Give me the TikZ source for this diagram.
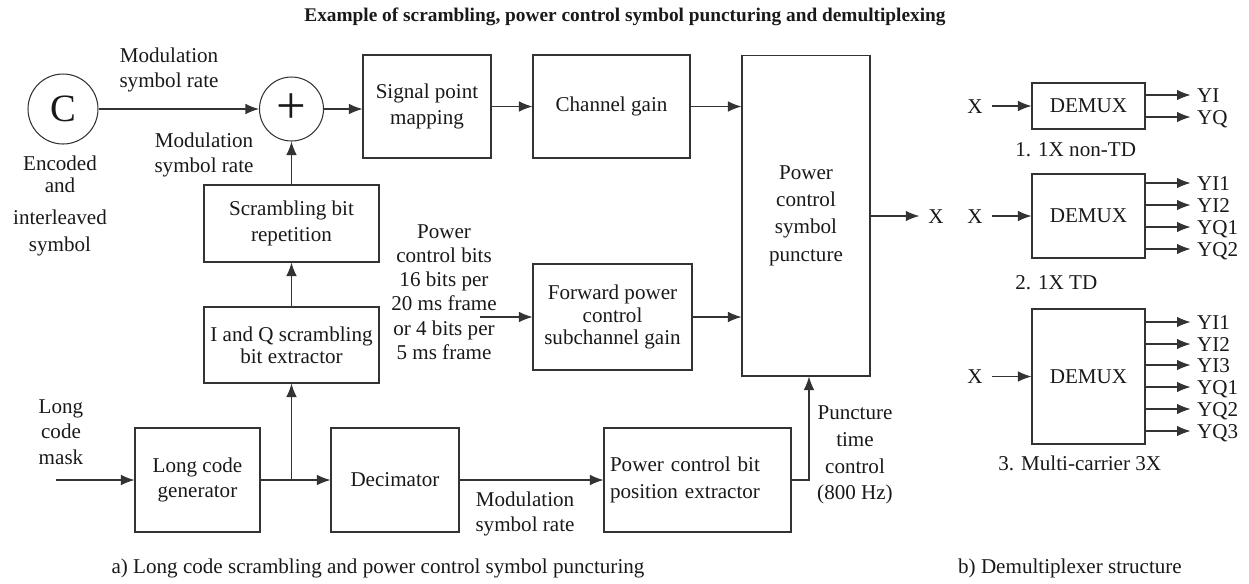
\documentclass[tikz,border=0pt]{standalone}
\usepackage{fontspec}
\setmainfont{Liberation Serif}
\usetikzlibrary{arrows.meta}

\begin{document}
\begin{tikzpicture}[x=0.02cm,y=-0.02cm]
\tikzstyle{every node}+=[font=\fontsize{12}{14.5}\selectfont, text=black!90]
\tikzstyle{block}=[draw=black!80, line width=0.6pt, align=center, inner sep=2pt]
\tikzstyle{arr}=[draw=black!80, line width=0.6pt, -{Latex[length=2.7mm,width=2.1mm]}]
\tikzstyle{sig}=[inner xsep=5pt, inner ysep=0pt, text height=8pt, text depth=0pt]
\tikzstyle{outlbl}=[right, inner xsep=3.5pt, inner ysep=0pt, text height=8pt, text depth=0pt]
\tikzstyle{subcap}=[inner sep=0pt, anchor=west]
\useasboundingbox (0,0) rectangle (1249,583);

% title
\node[font=\fontsize{11}{13}\selectfont\bfseries] (title) at (625,17) {Example of scrambling, power control symbol puncturing and demultiplexing};

% a) long code scrambling and power control symbol puncturing
\node[block, circle, minimum size=1.4cm, inner sep=0pt, font=\fontsize{22}{22}\selectfont] (csrc) at (63,109) {C};
\node[block, circle, minimum size=1.28cm, inner sep=0pt, font=\fontsize{30}{30}\selectfont] (plus) at (291.5,109) {+};
\node[block, minimum width=2.56cm, minimum height=2.06cm] (sigmap) at (427,106.5) {Signal point\\mapping};
\node[block, minimum width=3.14cm, minimum height=2.06cm] (chgain) at (611.5,106.5) {Channel gain};
\node[block, minimum width=2.56cm, minimum height=6.42cm, font=\fontsize{12}{15.5}\selectfont] (pcpunct) at (806,215.5) {Power\\control\\symbol\\puncture};
\node[block, minimum width=3.5cm, minimum height=1.54cm] (scrrep) at (291.5,223.5) {Scrambling bit\\repetition};
\node[block, minimum width=3.5cm, minimum height=1.52cm, font=\fontsize{12}{12.5}\selectfont] (iqext) at (291.5,345) {I and Q scrambling\\bit extractor};
\node[block, minimum width=3.18cm, minimum height=2.12cm, font=\fontsize{12}{12.8}\selectfont] (fwdgain) at (612.5,317) {Forward power\\control\\subchannel gain};
\node[block, minimum width=2.5cm, minimum height=2.08cm] (lcgen) at (197.5,480) {Long code\\generator};
\node[block, minimum width=2.56cm, minimum height=2.08cm] (decim) at (395,480) {Decimator};
\node[block, text width=3.5cm, inner xsep=0.12cm, align=left, minimum height=2.08cm, font=\fontsize{12}{15.4}\selectfont] (pcbext) at (697.5,480) {Power control bit\\position extractor};

\node[align=center, font=\fontsize{12}{14.2}\selectfont] (modrate1) at (169,70) {Modulation\\symbol rate};
\node[align=center, font=\fontsize{12}{14.2}\selectfont] (modrate2) at (204,155) {Modulation\\symbol rate};
\node[align=center, font=\fontsize{12}{12.5}\selectfont] (encsym) at (60,206) {Encoded\\and\\[6pt]interleaved\\[3pt]symbol};
\node[align=center] (lcmask) at (61,432) {Long\\code\\mask};
\node[align=center, font=\fontsize{12}{13.8}\selectfont] (pcbits) at (444,292) {Power\\control bits\\16 bits per\\20 ms frame\\or 4 bits per\\5 ms frame};
\node[align=center, font=\fontsize{12}{14.2}\selectfont] (modrate3) at (525,514) {Modulation\\symbol rate};
\node[align=center, font=\fontsize{12}{15.2}\selectfont] (punctime) at (855,455) {Puncture\\time\\control\\(800 Hz)};
\node[sig] (xout) at (936,216) {X};

\coordinate (maskin) at (56,480);
\coordinate (pcbin) at (480,317);

\draw[arr] (csrc) -- (plus);
\draw[arr] (plus.east) -- (plus.east -| sigmap.west);
\draw[arr] (sigmap) -- (chgain);
\draw[arr] (chgain.east) -- (chgain.east -| pcpunct.west);
\draw[arr] (scrrep) -- (plus);
\draw[arr] (iqext) -- (scrrep);
\draw[arr] (maskin) -- (lcgen);
\draw[arr] (lcgen) -- (decim);
\draw[arr] (lcgen.east -| iqext.south) -- (iqext.south);
\draw[arr] (decim) -- (pcbext);
\draw[arr] (pcbext.east) -| ([xshift=0.06cm]pcpunct.south);
\draw[arr] (pcbin) -- (fwdgain);
\draw[arr] (fwdgain.east) -- (fwdgain.east -| pcpunct.west);
\draw[arr] (pcpunct.east |- xout) -- (xout);

% b) demultiplexer structure
\node[block, minimum width=2.26cm, minimum height=0.92cm] (demux1) at (1088.5,106) {DEMUX};
\node[block, minimum width=2.26cm, minimum height=1.68cm] (demux2) at (1088.5,216) {DEMUX};
\node[block, minimum width=2.26cm, minimum height=2.7cm] (demux3) at (1088.5,376.5) {DEMUX};
\node[sig] (xin1) at (975,106) {X};
\node[sig] (xin2) at (975,216) {X};
\node[sig] (xin3) at (975,376.5) {X};
\draw[arr] (xin1) -- (demux1);
\draw[arr] (xin2) -- (demux2);
\draw[arr] (xin3) -- (demux3);

\draw[arr] (demux1.east |- 0,95) -- ++(45,0) node[outlbl] (ya1) {YI};
\draw[arr] (demux1.east |- 0,117) -- ++(45,0) node[outlbl] (ya2) {YQ};

\draw[arr] (demux2.east |- 0,183) -- ++(45,0) node[outlbl] (yb1) {YI1};
\draw[arr] (demux2.east |- 0,205) -- ++(45,0) node[outlbl] (yb2) {YI2};
\draw[arr] (demux2.east |- 0,227) -- ++(45,0) node[outlbl] (yb3) {YQ1};
\draw[arr] (demux2.east |- 0,249) -- ++(45,0) node[outlbl] (yb4) {YQ2};

\draw[arr] (demux3.east |- 0,322) -- ++(45,0) node[outlbl] (yc1) {YI1};
\draw[arr] (demux3.east |- 0,344) -- ++(45,0) node[outlbl] (yc2) {YI2};
\draw[arr] (demux3.east |- 0,365) -- ++(45,0) node[outlbl] (yc3) {YI3};
\draw[arr] (demux3.east |- 0,387) -- ++(45,0) node[outlbl] (yc4) {YQ1};
\draw[arr] (demux3.east |- 0,409) -- ++(45,0) node[outlbl] (yc5) {YQ2};
\draw[arr] (demux3.east |- 0,431) -- ++(45,0) node[outlbl] (yc6) {YQ3};

\node[subcap] (cap1) at (1015,150) {1. 1X non-TD};
\node[subcap] (cap2) at (1015,283) {2. 1X TD};
\node[subcap] (cap3) at (998,463) {3. Multi-carrier 3X};

% captions
\node (capa) at (378,568) {a) Long code scrambling and power control symbol puncturing};
\node (capb) at (1070,568) {b) Demultiplexer structure};
\end{tikzpicture}
\end{document}
